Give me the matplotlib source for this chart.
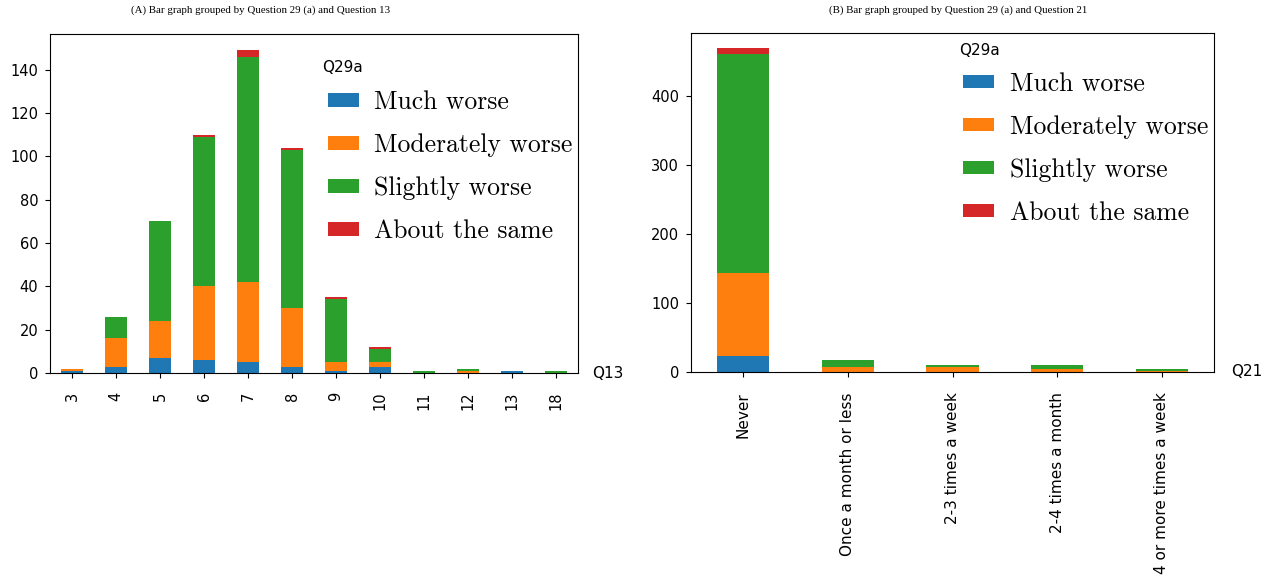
import numpy as np
import pandas as pd
import matplotlib
matplotlib.use('Agg')
import matplotlib.pyplot as plt

# Q29a 응답 항목
series_names = ['Much worse', 'Moderately worse', 'Slightly worse', 'About the same']

# (A) Q13 별 분포
q13_labels = ['3', '4', '5', '6', '7', '8', '9', '10', '11', '12', '13', '18']
q13_much = [1, 3, 7, 6, 5, 3, 1, 3, 0, 0, 1, 0]
q13_moderate = [1, 13, 17, 34, 37, 27, 4, 2, 0, 1, 0, 0]
q13_slight = [0, 10, 46, 69, 104, 73, 29, 6, 1, 1, 0, 1]
q13_same = [0, 0, 0, 1, 3, 1, 1, 1, 0, 0, 0, 0]

# (B) Q21 별 분포
q21_labels = ['Never', 'Once a month or less', '2-3 times a week',
              '2-4 times a month', '4 or more times a week']
q21_much = [23, 0, 0, 0, 0]
q21_moderate = [120, 7, 7, 5, 2]
q21_slight = [317, 11, 3, 5, 3]
q21_same = [9, 0, 0, 0, 0]

df13 = pd.DataFrame({series_names[0]: q13_much, series_names[1]: q13_moderate,
                     series_names[2]: q13_slight, series_names[3]: q13_same},
                    index=pd.Index(q13_labels, name='Q13'))
df21 = pd.DataFrame({series_names[0]: q21_much, series_names[1]: q21_moderate,
                     series_names[2]: q21_slight, series_names[3]: q21_same},
                    index=pd.Index(q21_labels, name='Q21'))

fig = plt.figure(figsize=(12.71, 5.78), dpi=100)
ax1 = fig.add_axes([50 / 1271, 1 - 373 / 578, 528 / 1271, 339 / 578])
ax2 = fig.add_axes([691 / 1271, 1 - 372 / 578, 523 / 1271, 339 / 578])

legend_font = {'family': 'cmr10', 'size': 18.5}

# (축, 데이터, y최대, 축이름 x위치, 범례 위치, 범례제목 위치, x눈금 크기, x눈금 간격)
for ax, df, top, lab_x, leg_anchor, title_xy, xfs, xpad in [
        (ax1, df13, 156.5, 1.057, (0.4924, 0.887), (0.515, 0.90), 10.5, 10),
        (ax2, df21, 491, 1.063, (0.4866, 0.9383), (0.5124, 0.947), 11, 11)]:
    df.plot(kind='bar', stacked=True, ax=ax, legend=False)
    ax.set_ylim(0, top)
    ax.set_xlim(-0.5, len(df) - 0.5)
    ax.tick_params(axis='y', labelsize=10.5, pad=5)
    ax.tick_params(axis='x', labelsize=xfs, pad=xpad)
    ax.set_xlabel(df.index.name, fontsize=11)
    ax.xaxis.set_label_coords(lab_x, 0.0)
    ax.xaxis.label.set_verticalalignment('center')
    ax.legend(prop=legend_font, frameon=False,
              loc='upper left', bbox_to_anchor=leg_anchor,
              handlelength=1.2, handleheight=0.42, labelspacing=0.75,
              handletextpad=0.6, borderaxespad=0.3)
    ax.text(title_xy[0], title_xy[1], 'Q29a', transform=ax.transAxes,
            fontsize=11, ha='left', va='center')

fig.text(261 / 1271, 1 - 10 / 578,
         '(A) Bar graph grouped by Question 29 (a) and Question 13',
         family='Liberation Serif', fontsize=7.8, ha='center', va='center')
fig.text(958 / 1271, 1 - 10 / 578,
         '(B) Bar graph grouped by Question 29 (a) and Question 21',
         family='Liberation Serif', fontsize=7.8, ha='center', va='center')

fig.savefig('out.png', dpi=100)
